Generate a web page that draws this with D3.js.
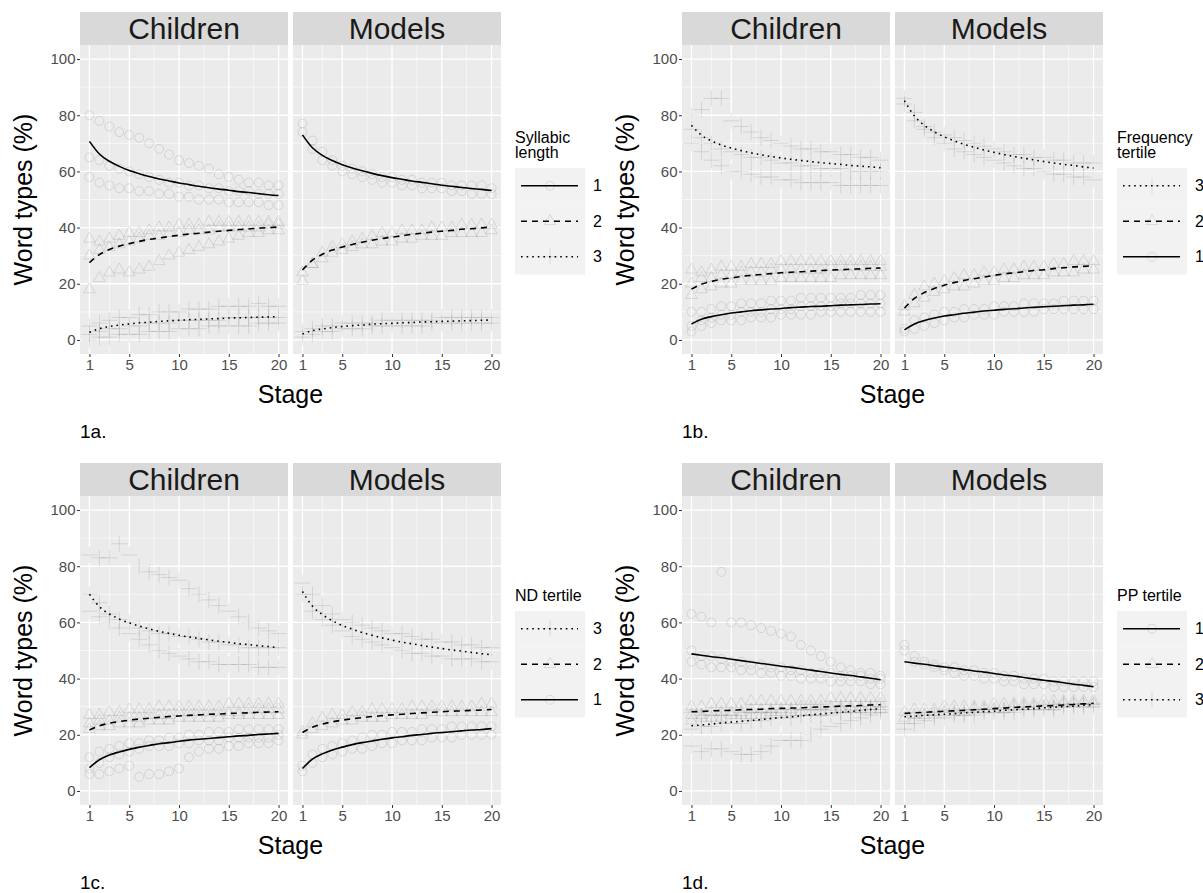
<!DOCTYPE html>
<html>
<head>
<meta charset="utf-8">
<script src="https://cdn.jsdelivr.net/npm/d3@7"></script>
<style>
  body { margin: 0; background: #fff; }
  svg { display: block; font-family: "Liberation Sans", Arial, sans-serif; }
</style>
</head>
<body>
<svg id="chart" width="1203" height="893"></svg>
<script>
// ---- shared scales / labels
var stages = [1,2,3,4,5,6,7,8,9,10,11,12,13,14,15,16,17,18,19,20];
var facets = ["Children", "Models"];
var xTicks = [1, 5, 10, 15, 20];
var xMinor = [3, 7.5, 12.5, 17.5];
var yTicks = [0, 20, 40, 60, 80, 100];
var yMinor = [10, 30, 50, 70, 90];
var plotTags = ["1a.", "1b.", "1c.", "1d."];
var legendTitles = [["Syllabic", "length"], ["Frequency", "tertile"], ["ND tertile"], ["PP tertile"]];
var legendOrders = [[1, 2, 3], [3, 2, 1], [3, 2, 1], [1, 2, 3]];

// ---- 1a syllabic length (groups 1,2,3)
var sylFitChildren = [
  [70.7,66.2,63.6,61.8,60.3,59.2,58.2,57.3,56.6,55.9,55.3,54.7,54.2,53.7,53.3,52.8,52.5,52.1,51.7,51.4],
  [27.5,30.4,32.2,33.4,34.3,35.1,35.8,36.3,36.8,37.3,37.7,38.0,38.4,38.7,39.0,39.3,39.5,39.8,40.0,40.2],
  [2.7,4.0,4.8,5.3,5.7,6.1,6.3,6.6,6.8,7.0,7.2,7.3,7.5,7.6,7.8,7.9,8.0,8.1,8.2,8.3]
];
var sylFitModels = [
  [73.0,68.4,65.7,63.9,62.4,61.2,60.2,59.3,58.5,57.8,57.2,56.6,56.1,55.6,55.1,54.7,54.3,53.9,53.6,53.2],
  [24.9,28.4,30.5,32.0,33.1,34.0,34.8,35.5,36.1,36.6,37.1,37.6,38.0,38.4,38.7,39.0,39.4,39.6,39.9,40.2],
  [2.1,3.3,3.9,4.4,4.8,5.1,5.3,5.6,5.8,5.9,6.1,6.2,6.4,6.5,6.6,6.7,6.8,6.9,7.0,7.1]
];
var sylPtsChildren = [
  [[80,78,76,74,73,72,70,68,66,64,63,62,61,59,58,57,56,56,55,55],
   [65,64,62,61,60,59,58,57,56,56,55,55,54,54,53,53,53,52,52,52],
   [58,56,55,54,54,53,53,52,52,51,51,50,50,50,49,49,49,49,48,48]],
  [[36,35,36,37,38,38,39,40,40,41,41,41,42,42,42,42,42,42,42,42],
   [30,32,33,34,35,36,37,37,38,38,39,39,39,40,40,40,40,40,41,41],
   [18,22,24,25,24,25,26,28,30,31,32,33,34,35,36,37,38,38,39,39]],
  [[5,6,7,8,8,9,9,10,10,10,11,11,11,12,12,12,12,13,12,12],
   [2,3,4,4,5,5,6,6,6,7,7,7,7,7,8,8,8,8,8,8],
   [0,1,1,2,2,2,3,3,3,4,4,4,5,5,5,5,5,6,6,6]]
];
var sylPtsModels = [
  [[77,71,67,64,62,61,60,59,58,58,57,57,56,56,56,55,55,55,55,54],
   [74,68,64,62,60,59,58,57,56,56,55,55,54,54,54,53,53,52,52,52]],
  [[21,27,31,33,34,35,36,37,38,38,39,39,39,40,40,40,41,41,41,41],
   [24,27,29,31,32,33,34,34,35,35,36,36,37,37,37,38,38,38,38,39]],
  [[3,4,5,5,6,6,6,6,7,7,7,7,7,7,8,8,8,8,8,8],
   [1,2,3,3,4,4,4,5,5,5,5,5,5,6,6,6,6,6,6,6]]
];

// ---- 1b frequency tertile
var freqFitChildren = [
  [5.7,7.4,8.3,9.0,9.6,10.0,10.4,10.7,11.0,11.2,11.5,11.7,11.9,12.0,12.2,12.4,12.5,12.6,12.8,12.9],
  [18.1,19.8,20.8,21.6,22.1,22.6,23.0,23.3,23.6,23.9,24.1,24.3,24.5,24.7,24.9,25.0,25.2,25.3,25.5,25.6],
  [76.4,72.9,70.9,69.4,68.3,67.4,66.6,65.9,65.3,64.8,64.3,63.9,63.5,63.1,62.8,62.5,62.1,61.9,61.6,61.3]
];
var freqFitModels = [
  [3.6,5.7,6.9,7.8,8.5,9.0,9.5,9.9,10.3,10.6,10.9,11.1,11.4,11.6,11.8,12.0,12.2,12.4,12.5,12.7],
  [11.3,14.8,16.9,18.3,19.5,20.4,21.2,21.8,22.4,23.0,23.5,23.9,24.3,24.7,25.0,25.4,25.7,26.0,26.2,26.5],
  [85.2,79.7,76.4,74.1,72.3,70.9,69.6,68.6,67.6,66.8,66.0,65.3,64.7,64.1,63.5,63.0,62.5,62.1,61.6,61.2]
];
var freqPtsChildren = [
  [[10,10,11,12,12,13,13,13,14,14,14,15,15,15,15,15,15,16,16,16],
   [5,7,8,9,9,10,10,10,11,11,11,12,12,12,12,13,13,13,13,13],
   [3,5,6,7,7,7,8,8,8,9,9,9,9,10,10,10,10,10,10,10]],
  [[25,24,25,26,26,26,27,27,27,28,28,28,28,28,28,28,28,28,28,28],
   [20,22,22,23,23,24,24,24,25,25,25,25,25,25,26,26,26,26,26,26],
   [16,18,19,20,20,21,21,21,21,22,22,22,22,22,22,23,23,23,23,23]],
  [[80,82,86,86,78,76,74,72,71,70,69,68,68,67,67,66,66,65,65,64],
   [75,72,70,68,67,66,65,65,64,63,63,62,62,61,61,61,60,60,60,60],
   [70,67,64,62,60,60,59,58,58,57,57,56,56,56,56,55,55,55,55,55]]
];
var freqPtsModels = [
  [[4,7,8,9,10,10,11,11,11,12,12,12,13,13,13,13,14,14,14,14],
   [3,4,5,6,7,8,8,9,9,9,10,10,10,10,11,11,11,11,11,11]],
  [[12,16,19,20,21,22,23,23,24,24,25,25,26,26,26,27,27,28,28,28],
   [10,13,15,17,18,19,19,20,21,21,22,22,23,23,23,24,24,24,25,25]],
  [[86,81,76,74,73,72,71,70,69,68,67,66,66,65,65,64,64,63,63,63],
   [84,78,75,72,70,68,67,66,65,64,63,62,61,61,60,59,59,58,58,57]]
];

// ---- 1c ND tertile
var ndFitChildren = [
  [8.3,11.1,12.8,13.9,14.8,15.6,16.2,16.8,17.2,17.7,18.1,18.4,18.7,19.0,19.3,19.6,19.8,20.1,20.3,20.5],
  [21.7,23.2,24.1,24.7,25.2,25.6,25.9,26.2,26.5,26.7,26.9,27.1,27.3,27.4,27.6,27.7,27.8,28.0,28.1,28.2],
  [70.0,65.6,63.0,61.2,59.8,58.7,57.7,56.8,56.1,55.4,54.8,54.3,53.8,53.3,52.9,52.4,52.1,51.7,51.4,51.0]
];
var ndFitModels = [
  [8.0,11.3,13.2,14.6,15.6,16.5,17.2,17.8,18.4,18.9,19.3,19.8,20.1,20.5,20.8,21.1,21.4,21.7,21.9,22.2],
  [20.8,22.7,23.8,24.6,25.2,25.7,26.1,26.5,26.8,27.1,27.3,27.6,27.8,28.0,28.2,28.4,28.5,28.7,28.8,29.0],
  [71.0,65.8,62.8,60.6,58.9,57.6,56.4,55.4,54.5,53.7,53.0,52.4,51.8,51.2,50.7,50.2,49.8,49.3,48.9,48.5]
];
var ndPtsChildren = [
  [[12,14,15,16,17,17,18,18,19,19,20,20,21,21,21,22,22,22,22,22],
   [8,10,12,13,14,15,16,16,16,17,17,18,18,18,19,19,19,19,19,20],
   [6,6,7,8,9,5,6,6,7,8,12,14,15,15,16,16,17,17,17,18]],
  [[27,27,28,28,29,29,29,30,30,30,30,30,30,30,31,31,31,31,31,31],
   [24,25,25,26,26,26,27,27,27,28,28,28,28,28,28,28,29,29,29,29],
   [22,23,23,24,24,24,25,25,25,26,26,26,26,26,27,27,27,27,27,27]],
  [[84,83,83,88,84,80,78,77,76,75,72,70,68,66,64,62,60,58,57,56],
   [70,67,63,61,60,58,57,56,56,55,55,54,53,53,52,52,51,51,51,51],
   [64,62,60,58,56,54,52,50,49,48,47,46,46,45,45,45,45,44,44,44]]
];
var ndPtsModels = [
  [[9,13,15,16,17,18,19,20,20,21,21,21,22,22,22,23,23,23,23,23],
   [7,10,12,13,14,15,15,16,17,17,18,18,18,19,19,19,20,20,20,20]],
  [[21,24,26,27,27,28,28,29,29,29,29,30,30,30,30,30,30,30,31,31],
   [20,22,23,24,25,25,26,26,26,27,27,27,27,28,28,28,28,28,28,28]],
  [[74,70,66,63,61,60,59,58,57,56,56,55,54,54,53,53,52,52,51,51],
   [70,64,61,59,57,55,54,53,52,51,50,49,49,48,48,47,47,47,46,46]]
];

// ---- 1d PP tertile
var ppFitChildren = [
  [48.8,48.3,47.8,47.4,46.9,46.4,45.9,45.4,44.9,44.4,44.0,43.5,43.0,42.5,42.0,41.5,41.1,40.6,40.1,39.6],
  [28.2,28.3,28.5,28.6,28.7,28.9,29.0,29.1,29.3,29.4,29.5,29.6,29.8,29.9,30.0,30.2,30.3,30.4,30.6,30.7],
  [23.2,23.5,23.8,24.2,24.5,24.8,25.1,25.4,25.8,26.1,26.4,26.7,27.1,27.4,27.7,28.0,28.3,28.7,29.0,29.3]
];
var ppFitModels = [
  [46.0,45.5,45.1,44.6,44.1,43.7,43.2,42.7,42.3,41.8,41.3,40.9,40.4,39.9,39.4,39.0,38.5,38.0,37.6,37.1],
  [27.6,27.8,28.0,28.2,28.4,28.5,28.7,28.9,29.1,29.3,29.5,29.7,29.9,30.1,30.3,30.4,30.6,30.8,31.0,31.2],
  [26.4,26.6,26.9,27.1,27.3,27.5,27.8,28.0,28.2,28.4,28.7,28.9,29.1,29.3,29.6,29.8,30.0,30.2,30.5,30.7]
];
var ppPtsChildren = [
  [[63,62,60,78,60,60,59,58,57,56,55,52,50,48,46,44,43,42,42,41],
   [50,48,48,47,46,46,45,45,44,44,43,43,42,42,42,41,41,41,40,40],
   [46,45,44,44,44,43,43,42,42,41,41,40,40,40,39,39,39,39,38,38]],
  [[30,30,31,31,31,31,32,32,32,32,32,32,32,32,33,33,33,33,33,33],
   [27,27,28,28,28,28,29,29,29,29,29,30,30,30,30,30,30,30,30,31],
   [25,26,26,26,27,27,27,27,28,28,28,28,28,28,29,29,29,29,29,29]],
  [[28,27,27,27,27,28,28,28,28,29,29,29,29,29,30,30,30,30,30,30],
   [22,23,23,24,24,24,25,25,26,26,26,27,27,27,27,28,28,28,29,29],
   [16,14,15,15,14,13,13,14,16,18,18,18,20,22,23,24,25,26,27,28]]
];
var ppPtsModels = [
  [[52,48,46,45,44,44,43,43,42,42,41,41,40,40,40,39,39,39,39,39],
   [50,46,45,44,43,42,41,41,40,40,39,39,38,38,38,37,37,37,37,37]],
  [[28,29,29,29,30,30,30,30,30,31,31,31,31,31,32,32,32,32,32,32],
   [26,27,27,28,28,28,28,29,29,29,29,30,30,30,30,30,31,31,31,31]],
  [[24,26,27,27,28,28,28,29,29,29,29,30,30,30,30,30,31,31,31,31],
   [22,24,25,26,26,27,27,27,28,28,28,28,29,29,29,29,30,30,30,30]]
];

var plots = [
  { fits: [sylFitChildren, sylFitModels], pts: [sylPtsChildren, sylPtsModels] },
  { fits: [freqFitChildren, freqFitModels], pts: [freqPtsChildren, freqPtsModels] },
  { fits: [ndFitChildren, ndFitModels], pts: [ndPtsChildren, ndPtsModels] },
  { fits: [ppFitChildren, ppFitModels], pts: [ppPtsChildren, ppPtsModels] }
];

// ---- layout
var origins = [[0, 0], [602, 0], [0, 451], [602, 451]];
var panelLeft = [80, 293], panelW = 208;
var stripTop = 12, panelTop = 45, panelH = 309;

var x = d3.scaleLinear().domain([0.05, 20.95]).range([0, panelW]);
var y = d3.scaleLinear().domain([-5, 105]).range([panelH, 0]);

var dashes = { 1: null, 2: "6,5", 3: "1.6,4" };
var shapes = {
  1: d3.symbol(d3.symbolCircle, 64)(),
  2: d3.symbol(d3.symbolTriangle, 58)(),
  3: "M-8,0H8M0,-8V8"
};
var line = d3.line()
  .curve(d3.curveMonotoneX)
  .x(function (d, i) { return x(stages[i]); })
  .y(function (d) { return y(d); });

var svg = d3.select("#chart");
svg.append("rect").attr("width", 1203).attr("height", 893).attr("fill", "#fff");

plots.forEach(function (p, pi) {
  var g = svg.append("g").attr("transform", "translate(" + origins[pi][0] + "," + origins[pi][1] + ")");

  facets.forEach(function (facet, fi) {
    var px = panelLeft[fi];

    // strip
    g.append("rect").attr("x", px).attr("y", stripTop).attr("width", panelW)
      .attr("height", panelTop - stripTop).attr("fill", "#d9d9d9");
    g.append("text").attr("x", px + panelW / 2).attr("y", 39).attr("text-anchor", "middle")
      .attr("font-size", 30).attr("fill", "#1a1a1a").text(facet);

    var panel = g.append("g").attr("transform", "translate(" + px + "," + panelTop + ")");
    var clipId = "clip" + pi + "_" + fi;
    panel.append("clipPath").attr("id", clipId).append("rect")
      .attr("width", panelW).attr("height", panelH);
    panel.append("rect").attr("width", panelW).attr("height", panelH).attr("fill", "#ebebeb");

    // grid
    panel.selectAll(".ymin").data(yMinor).enter().append("line")
      .attr("x1", 0).attr("x2", panelW).attr("y1", y).attr("y2", y)
      .attr("stroke", "#fff").attr("stroke-width", 0.6);
    panel.selectAll(".xmin").data(xMinor).enter().append("line")
      .attr("y1", 0).attr("y2", panelH).attr("x1", x).attr("x2", x)
      .attr("stroke", "#fff").attr("stroke-width", 0.6);
    panel.selectAll(".ymaj").data(yTicks).enter().append("line")
      .attr("x1", 0).attr("x2", panelW).attr("y1", y).attr("y2", y)
      .attr("stroke", "#fff").attr("stroke-width", 1.3);
    panel.selectAll(".xmaj").data(xTicks).enter().append("line")
      .attr("y1", 0).attr("y2", panelH).attr("x1", x).attr("x2", x)
      .attr("stroke", "#fff").attr("stroke-width", 1.3);

    var inner = panel.append("g").attr("clip-path", "url(#" + clipId + ")");

    // individual points
    p.pts[fi].forEach(function (grp, gi) {
      grp.forEach(function (traj) {
        inner.selectAll(null).data(traj).enter().append("path")
          .attr("d", shapes[gi + 1])
          .attr("transform", function (d, i) { return "translate(" + x(stages[i]) + "," + y(d) + ")"; })
          .attr("fill", "none").attr("stroke", "#000").attr("stroke-opacity", 0.1)
          .attr("stroke-width", 1);
      });
    });

    // fitted curves
    p.fits[fi].forEach(function (vals, gi) {
      inner.append("path").datum(vals).attr("d", line)
        .attr("fill", "none").attr("stroke", "#000").attr("stroke-width", 1.6)
        .attr("stroke-dasharray", dashes[gi + 1]);
    });

    // x axis
    var xa = panel.append("g").attr("transform", "translate(0," + panelH + ")")
      .call(d3.axisBottom(x).tickValues(xTicks).tickSize(3).tickPadding(2));
    xa.select(".domain").remove();
    xa.selectAll("line").attr("stroke", "#333");
    xa.selectAll("text").attr("font-size", 15).attr("fill", "#4d4d4d")
      .attr("font-family", "Liberation Sans, Arial, sans-serif");
  });

  // y axis (left panel only)
  var ya = g.append("g").attr("transform", "translate(" + panelLeft[0] + "," + panelTop + ")")
    .call(d3.axisLeft(y).tickValues(yTicks).tickSize(3).tickPadding(1.5));
  ya.select(".domain").remove();
  ya.selectAll("line").attr("stroke", "#333");
  ya.selectAll("text").attr("font-size", 15).attr("fill", "#4d4d4d")
    .attr("font-family", "Liberation Sans, Arial, sans-serif");

  // axis titles
  g.append("text").attr("transform", "translate(32," + (panelTop + panelH / 2) + ") rotate(-90)")
    .attr("text-anchor", "middle").attr("font-size", 25).attr("fill", "#000").text("Word types (%)");
  g.append("text").attr("x", (panelLeft[0] + panelLeft[1] + panelW) / 2).attr("y", 403)
    .attr("text-anchor", "middle").attr("font-size", 25).attr("fill", "#000").text("Stage");

  // tag
  g.append("text").attr("x", 80).attr("y", 438).attr("font-size", 19).attr("fill", "#000")
    .text(plotTags[pi]);

  // legend
  var title = legendTitles[pi];
  var boxTop = title.length > 1 ? 168 : 160;
  var lg = g.append("g").attr("transform", "translate(515,0)");
  title.forEach(function (t, ti) {
    lg.append("text").attr("x", 0).attr("y", boxTop - 10.5 - (title.length - 1 - ti) * 15)
      .attr("font-size", 16).attr("fill", "#000").text(t);
  });
  legendOrders[pi].forEach(function (grp, k) {
    var ky = boxTop + k * 35.5;
    lg.append("rect").attr("x", 0).attr("y", ky).attr("width", 70).attr("height", 35.5)
      .attr("fill", "#f2f2f2");
    lg.append("path").attr("d", shapes[grp])
      .attr("transform", "translate(35," + (ky + 17.75) + ")")
      .attr("fill", "none").attr("stroke", "#000").attr("stroke-opacity", 0.1);
    lg.append("line").attr("x1", 6).attr("x2", 63).attr("y1", ky + 17.75).attr("y2", ky + 17.75)
      .attr("stroke", "#000").attr("stroke-width", 1.6).attr("stroke-dasharray", dashes[grp]);
    lg.append("text").attr("x", 78).attr("y", ky + 17.75).attr("dy", "0.35em")
      .attr("font-size", 16).attr("fill", "#000").text(grp);
  });
});
</script>
</body>
</html>
